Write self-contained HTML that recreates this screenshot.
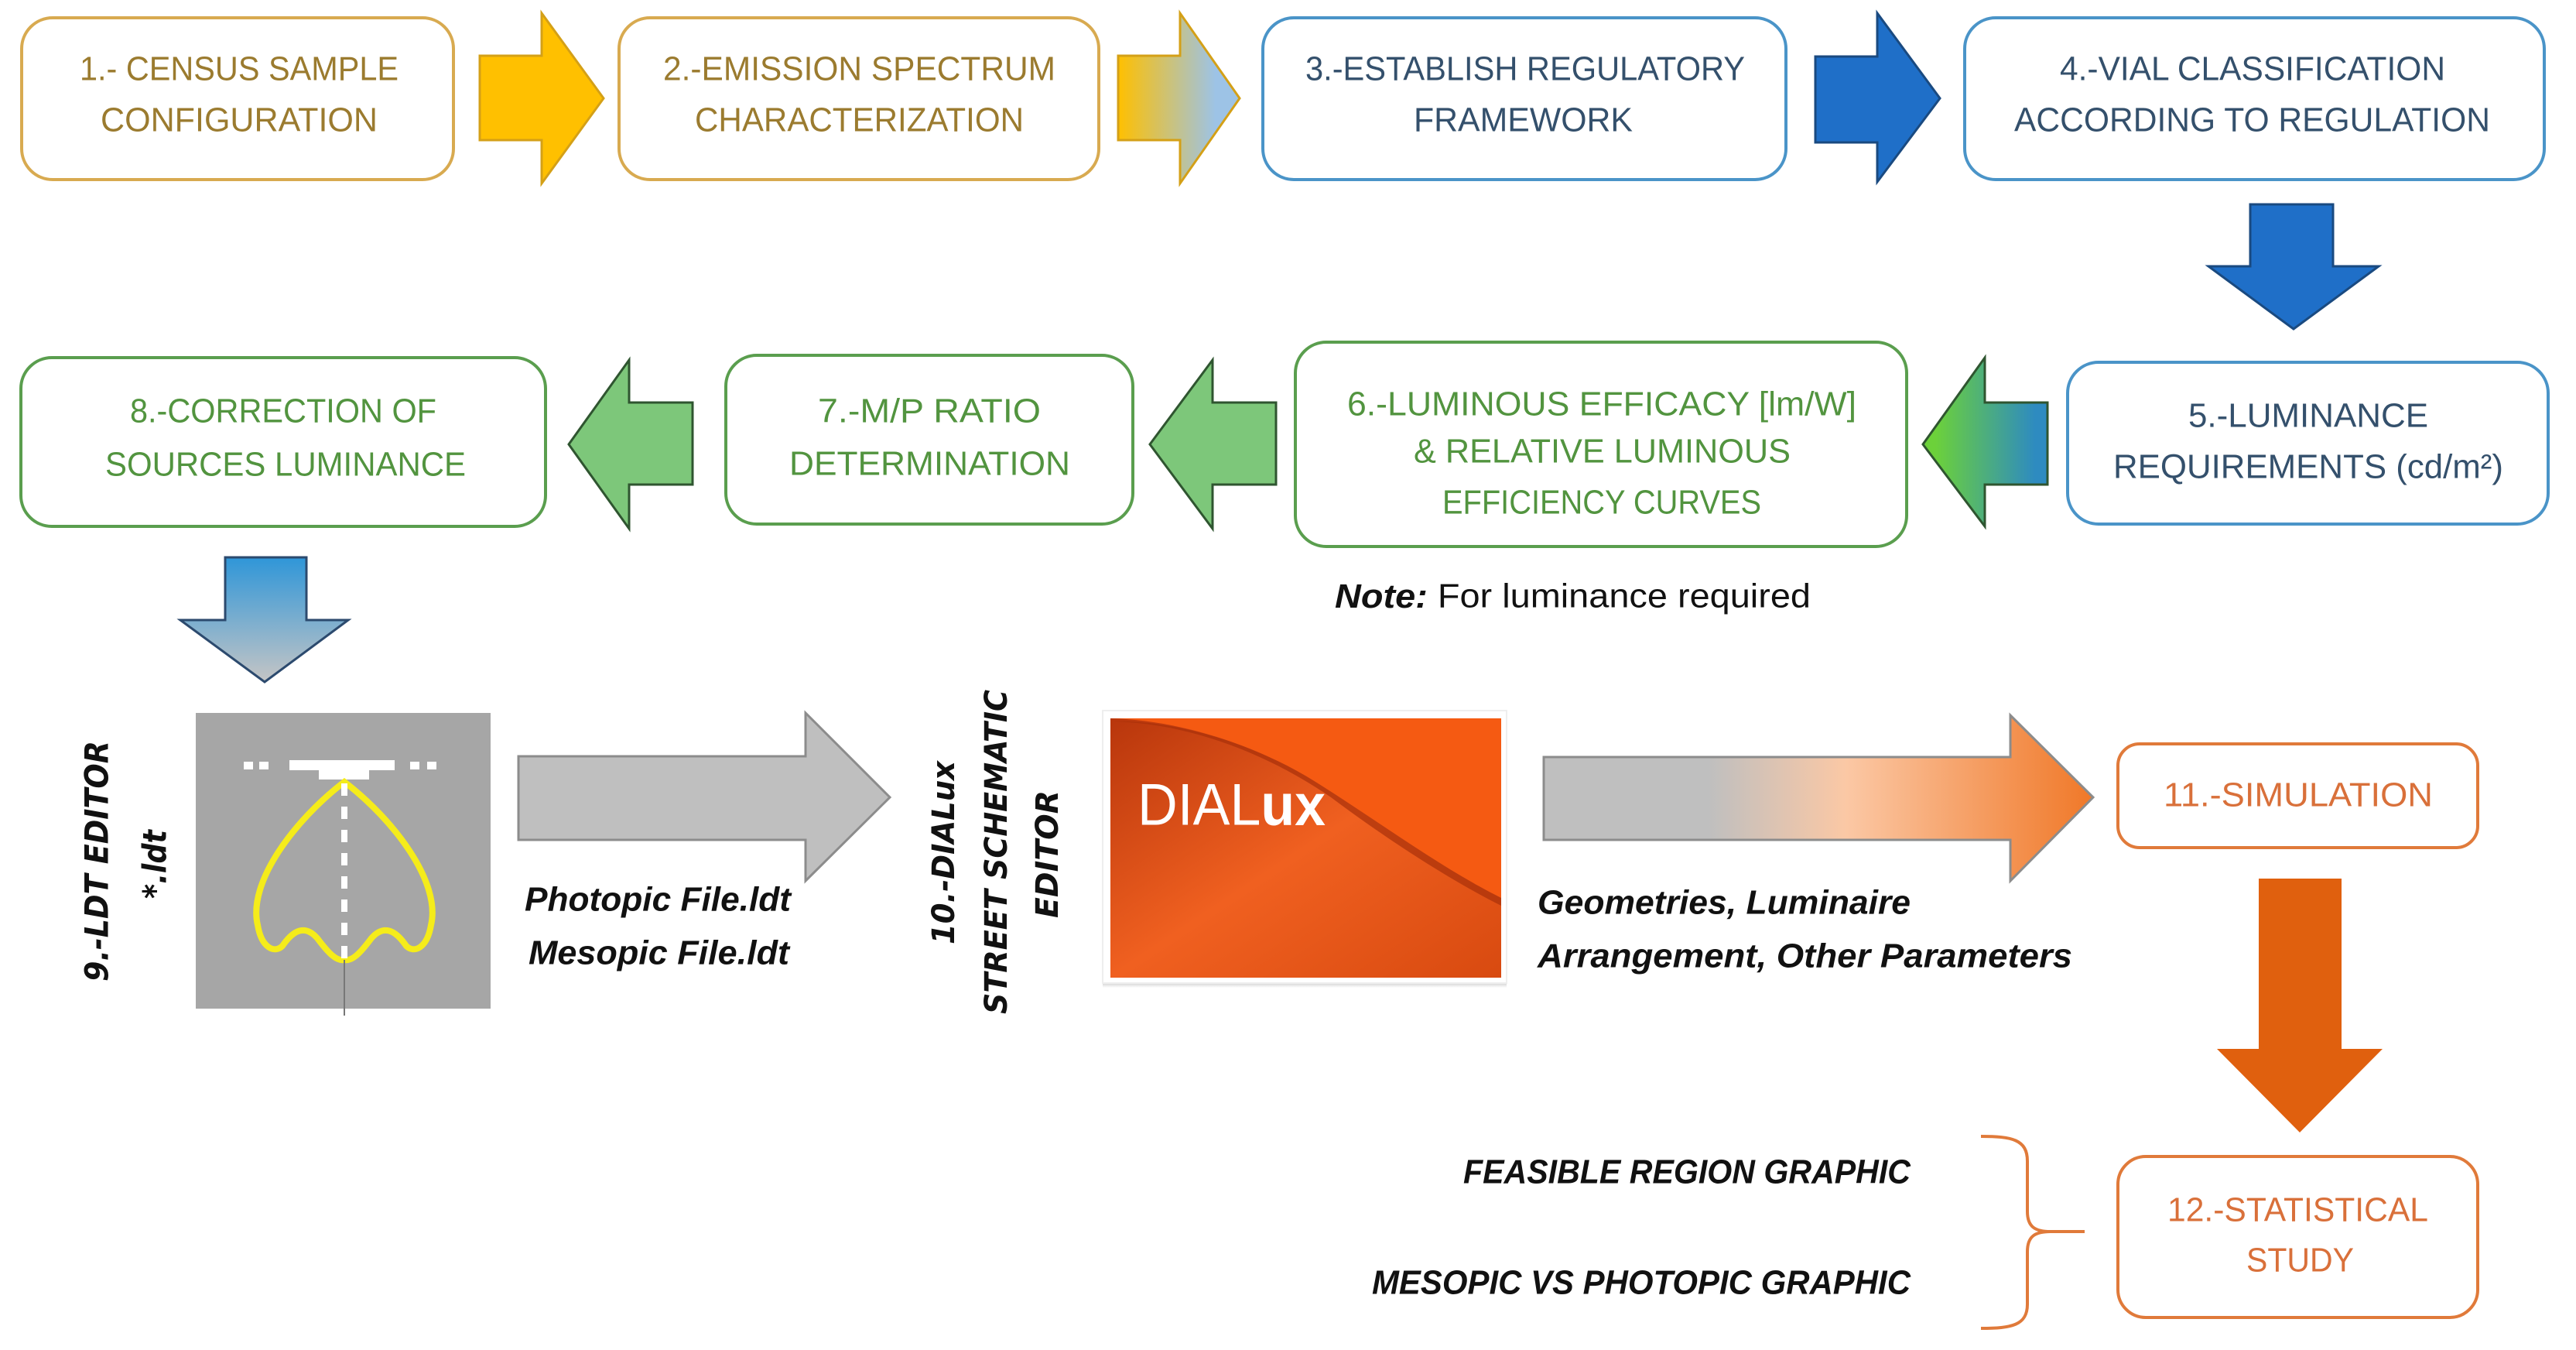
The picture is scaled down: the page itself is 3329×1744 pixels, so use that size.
<!DOCTYPE html>
<html><head><meta charset="utf-8"><style>html,body{margin:0;padding:0;background:#fff}svg{display:block}</style></head>
<body>
<svg width="3329" height="1744" viewBox="0 0 3329 1744" xmlns="http://www.w3.org/2000/svg">
<defs>
<linearGradient id="g2" x1="0" x2="1" y1="0" y2="0"><stop offset="0" stop-color="#ffc000"/><stop offset="0.8" stop-color="#9dc3e6"/></linearGradient>
<linearGradient id="g5" x1="0" x2="1" y1="0" y2="0"><stop offset="0.1" stop-color="#6cd13a"/><stop offset="0.9" stop-color="#2e8bc0"/></linearGradient>
<linearGradient id="g8" x1="0" x2="0" y1="0" y2="1"><stop offset="0" stop-color="#2f96d8"/><stop offset="1" stop-color="#c5c5c5"/></linearGradient>
<linearGradient id="g10" x1="0" x2="1" y1="0" y2="0"><stop offset="0.3" stop-color="#bfbfbf"/><stop offset="0.55" stop-color="#fbc8a5"/><stop offset="1" stop-color="#f07828"/></linearGradient>
<linearGradient id="dl" x1="0" x2="1" y1="0" y2="1"><stop offset="0" stop-color="#b8360c"/><stop offset="0.5" stop-color="#f06020"/><stop offset="1" stop-color="#d84a10"/></linearGradient>
<linearGradient id="sh" x1="0" x2="0" y1="0" y2="1"><stop offset="0" stop-color="#999"/><stop offset="1" stop-color="#fff"/></linearGradient>
</defs>
<g font-family="Liberation Sans, sans-serif" font-size="44" text-anchor="start" dominant-baseline="central">
<!-- Row 1 boxes -->
<rect x="28" y="23" width="558" height="209" rx="40" fill="#fff" stroke="#d8aa50" stroke-width="4"/>
<text x="103" y="89" textLength="412" lengthAdjust="spacingAndGlyphs" fill="#9b7b2f">1.- CENSUS SAMPLE</text>
<text x="130" y="155" textLength="358" lengthAdjust="spacingAndGlyphs" fill="#9b7b2f">CONFIGURATION</text>
<path d="M620,72 H700 V17 L780,127 L700,237 V181 H620 Z" fill="#ffc000" stroke="#d4a017" stroke-width="3"/>
<rect x="800" y="23" width="620" height="209" rx="40" fill="#fff" stroke="#d8aa50" stroke-width="4"/>
<text x="857" y="89" textLength="507" lengthAdjust="spacingAndGlyphs" fill="#9b7b2f">2.-EMISSION SPECTRUM</text>
<text x="898" y="155" textLength="425" lengthAdjust="spacingAndGlyphs" fill="#9b7b2f">CHARACTERIZATION</text>
<path d="M1445,72 H1525 V17 L1602,127 L1525,237 V181 H1445 Z" fill="url(#g2)" stroke="#d4a017" stroke-width="3"/>
<rect x="1632" y="23" width="676" height="209" rx="40" fill="#fff" stroke="#4a94c8" stroke-width="4"/>
<text x="1687" y="89" textLength="568" lengthAdjust="spacingAndGlyphs" fill="#34506c">3.-ESTABLISH REGULATORY</text>
<text x="1827" y="155" textLength="283" lengthAdjust="spacingAndGlyphs" fill="#34506c">FRAMEWORK</text>
<path d="M2346,73 H2426 V17 L2507,127 L2426,235 V184 H2346 Z" fill="#1f6fc8" stroke="#1a4a80" stroke-width="3"/>
<rect x="2539" y="23" width="749" height="209" rx="40" fill="#fff" stroke="#4a94c8" stroke-width="4"/>
<text x="2662" y="89" textLength="498" lengthAdjust="spacingAndGlyphs" fill="#34506c">4.-VIAL CLASSIFICATION</text>
<text x="2603" y="155" textLength="615" lengthAdjust="spacingAndGlyphs" fill="#34506c">ACCORDING TO REGULATION</text>
<path d="M2908,264 H3015 V344 H3074 L2964,425 L2854,344 H2908 Z" fill="#1f6fc8" stroke="#1a4a80" stroke-width="3"/>
<!-- Row 2 -->
<rect x="2672" y="468" width="621" height="209" rx="40" fill="#fff" stroke="#4a94c8" stroke-width="4"/>
<text x="2828" y="537" textLength="310" lengthAdjust="spacingAndGlyphs" fill="#34506c">5.-LUMINANCE</text>
<text x="2731" y="603" textLength="504" lengthAdjust="spacingAndGlyphs" fill="#34506c">REQUIREMENTS (cd/m²)</text>
<path d="M2646,520 H2565 V462 L2485,574 L2565,680 V626 H2646 Z" fill="url(#g5)" stroke="#2f5530" stroke-width="3"/>
<rect x="1674" y="442" width="790" height="264" rx="40" fill="#fff" stroke="#5a9e4e" stroke-width="4"/>
<text x="1741" y="522" textLength="658" lengthAdjust="spacingAndGlyphs" fill="#52943f">6.-LUMINOUS EFFICACY [lm/W]</text>
<text x="1827" y="583" textLength="487" lengthAdjust="spacingAndGlyphs" fill="#52943f">&amp; RELATIVE LUMINOUS</text>
<text x="1864" y="649" textLength="412" lengthAdjust="spacingAndGlyphs" fill="#52943f">EFFICIENCY CURVES</text>
<text x="1725" y="770" textLength="615" lengthAdjust="spacingAndGlyphs" fill="#111" font-size="44"><tspan font-weight="bold" font-style="italic">Note:</tspan> For luminance required</text>
<path d="M1649,520 H1567 V465 L1486,574 L1567,683 V626 H1649 Z" fill="#7dc77a" stroke="#2f5530" stroke-width="3"/>
<rect x="938" y="459" width="526" height="218" rx="40" fill="#fff" stroke="#5a9e4e" stroke-width="4"/>
<text x="1057" y="531" textLength="288" lengthAdjust="spacingAndGlyphs" fill="#52943f">7.-M/P RATIO</text>
<text x="1020" y="599" textLength="363" lengthAdjust="spacingAndGlyphs" fill="#52943f">DETERMINATION</text>
<path d="M895,520 H813 V465 L735,574 L813,683 V626 H895 Z" fill="#7dc77a" stroke="#2f5530" stroke-width="3"/>
<rect x="27" y="462" width="678" height="218" rx="40" fill="#fff" stroke="#5a9e4e" stroke-width="4"/>
<text x="168" y="531" textLength="396" lengthAdjust="spacingAndGlyphs" fill="#52943f">8.-CORRECTION OF</text>
<text x="136" y="600" textLength="466" lengthAdjust="spacingAndGlyphs" fill="#52943f">SOURCES LUMINANCE</text>
<path d="M291,720 H396 V801 H450 L342,881 L233,801 H291 Z" fill="url(#g8)" stroke="#2c4a6e" stroke-width="3"/>
<!-- Row 3 -->
<text transform="translate(125,1113) rotate(-90)" x="-155" y="0" textLength="311" lengthAdjust="spacingAndGlyphs" font-family="DejaVu Sans, sans-serif" font-weight="bold" font-style="italic" font-size="42" fill="#111">9.-LDT EDITOR</text>
<text transform="translate(200,1116) rotate(-90)" x="-45" y="0" textLength="89" lengthAdjust="spacingAndGlyphs" font-family="DejaVu Sans, sans-serif" font-weight="bold" font-style="italic" font-size="42" fill="#111">*.ldt</text>
<rect x="253" y="921" width="381" height="382" fill="#a6a6a6"/>
<g fill="#fff"><rect x="315" y="984" width="12" height="10"/><rect x="335" y="984" width="12" height="10"/><rect x="374" y="982" width="136" height="13"/><rect x="412" y="995" width="65" height="12"/><rect x="530" y="984" width="12" height="10"/><rect x="552" y="984" width="12" height="10"/></g>
<path d="M445,1010 C380,1060 320,1140 333,1195 C338,1225 355,1232 365,1222 C380,1200 395,1195 410,1212 C425,1232 435,1242 445,1240 C455,1242 465,1232 480,1212 C495,1195 510,1200 525,1222 C535,1232 552,1225 557,1195 C570,1140 510,1060 445,1010 Z" fill="none" stroke="#f5ec1a" stroke-width="8"/>
<line x1="445" y1="1012" x2="445" y2="1240" stroke="#fff" stroke-width="8" stroke-dasharray="16,14"/>
<line x1="445" y1="1240" x2="445" y2="1312" stroke="#777" stroke-width="2"/>
<path d="M670,977 H1041 V921 L1150,1030 L1041,1138 V1085 H670 Z" fill="#bfbfbf" stroke="#8c8c8c" stroke-width="3"/>
<g font-weight="bold" font-style="italic" fill="#111" font-size="44">
<text x="678" y="1162" textLength="344" lengthAdjust="spacingAndGlyphs">Photopic File.ldt</text>
<text x="683" y="1231" textLength="337" lengthAdjust="spacingAndGlyphs">Mesopic File.ldt</text>
<text x="1987" y="1166" textLength="482" lengthAdjust="spacingAndGlyphs">Geometries, Luminaire</text>
<text x="1987" y="1235" textLength="691" lengthAdjust="spacingAndGlyphs">Arrangement, Other Parameters</text>
<text x="1891" y="1514" textLength="578" lengthAdjust="spacingAndGlyphs">FEASIBLE REGION GRAPHIC</text>
<text x="1773" y="1657" textLength="696" lengthAdjust="spacingAndGlyphs">MESOPIC VS PHOTOPIC GRAPHIC</text>
</g>
<g font-family="DejaVu Sans, sans-serif" font-weight="bold" font-style="italic" font-size="40" fill="#111">
<text transform="translate(1220,1102) rotate(-90)" x="-118" y="0" textLength="237" lengthAdjust="spacingAndGlyphs">10.-DIALux</text>
<text transform="translate(1288,1100) rotate(-90)" x="-210" y="0" textLength="419" lengthAdjust="spacingAndGlyphs">STREET SCHEMATIC</text>
<text transform="translate(1354,1103) rotate(-90)" x="-83" y="0" textLength="165" lengthAdjust="spacingAndGlyphs">EDITOR</text>
</g>
<rect x="1425" y="1262" width="522" height="14" fill="url(#sh)"/>
<rect x="1425" y="918" width="522" height="352" fill="#fff" stroke="#eee" stroke-width="2"/>
<rect x="1435" y="928" width="505" height="335" fill="url(#dl)"/>
<path d="M1435,928 H1940 V1160 C1860,1120 1780,1060 1700,1010 C1620,960 1520,930 1435,928 Z" fill="#f55a12"/>
<path d="M1440,932 C1540,935 1640,975 1720,1030 C1800,1090 1880,1140 1940,1170 L1940,1160 C1860,1120 1780,1060 1700,1010 C1620,960 1520,930 1440,932 Z" fill="#a8300a" opacity="0.7"/>
<text x="1470" y="1040" textLength="243" lengthAdjust="spacingAndGlyphs" font-size="76" fill="#fff">DIAL<tspan font-weight="bold">ux</tspan></text>
<path d="M1995,978 H2598 V924 L2705,1030 L2598,1138 V1085 H1995 Z" fill="url(#g10)" stroke="#8c8c8c" stroke-width="3"/>
<rect x="2737" y="961" width="465" height="134" rx="28" fill="#fff" stroke="#e07a3a" stroke-width="4"/>
<text x="2796" y="1027" textLength="348" lengthAdjust="spacingAndGlyphs" fill="#d9703a">11.-SIMULATION</text>
<path d="M2919,1135 H3026 V1355 H3079 L2972,1463 L2865,1355 H2919 Z" fill="#e0600e"/>
<rect x="2737" y="1494" width="465" height="208" rx="36" fill="#fff" stroke="#e07a3a" stroke-width="4"/>
<text x="2801" y="1563" textLength="337" lengthAdjust="spacingAndGlyphs" fill="#d9703a">12.-STATISTICAL</text>
<text x="2903" y="1628" textLength="139" lengthAdjust="spacingAndGlyphs" fill="#d9703a">STUDY</text>
<path d="M2560,1468 C2600,1468 2620,1472 2620,1500 V1565 C2620,1585 2630,1591 2650,1591 H2694 M2650,1591 C2630,1591 2620,1597 2620,1617 V1685 C2620,1712 2600,1716 2560,1716" fill="none" stroke="#e07a3a" stroke-width="4"/>
</g>
</svg>
</body></html>
